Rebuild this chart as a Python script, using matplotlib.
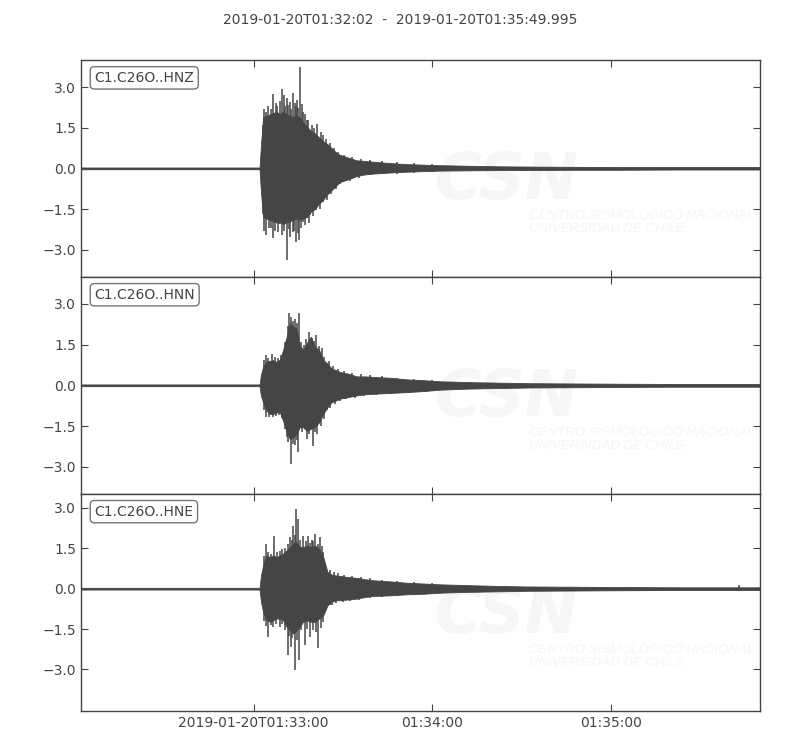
import numpy as np
import matplotlib
matplotlib.use("Agg")
import matplotlib.pyplot as plt
from matplotlib.ticker import FixedLocator, FixedFormatter

# =========================
# DONNÉES
# temps en secondes depuis 2019-01-20T01:32:02
# =========================

title = "2019-01-20T01:32:02  -  2019-01-20T01:35:49.995"
duration = 227.995
channels = ["C1.C26O..HNZ", "C1.C26O..HNN", "C1.C26O..HNE"]

xtick_pos = [58, 118, 178]
xtick_labels = ["2019-01-20T01:33:00", "01:34:00", "01:35:00"]
ytick_pos = [-3.0, -1.5, 0.0, 1.5, 3.0]

ylims = [(-4.01, 4.01), (-3.99, 3.99), (-4.53, 3.52)]

# enveloppe du corps du signal (partie pleine)
body_t = [0, 60.0, 60.5, 61.2, 62.3, 63.5, 64.6, 65.7, 66.8, 67.9, 69.1, 70.2,
          71.3, 72.4, 73.5, 74.6, 75.8, 77.2, 78.6, 80.0, 81.4, 82.8, 84.2,
          85.6, 87.0, 89.8, 92.6, 95.4, 98.2, 103.8, 109.4, 115.0, 120.6,
          130, 140, 150, 165, 180, 200, 228]

hnz_hi = [0.03, 0.03, 0.9, 1.9, 1.95, 2.0, 2.05, 2.1, 2.0, 2.1, 2.0, 1.95,
          1.9, 1.95, 1.9, 1.7, 1.55, 1.4, 1.3, 1.15, 1.0, 0.9, 0.75,
          0.6, 0.5, 0.4, 0.3, 0.28, 0.25, 0.2, 0.16, 0.14, 0.12,
          0.1, 0.08, 0.07, 0.06, 0.05, 0.05, 0.05]
hnz_lo = [-0.03, -0.03, -0.9, -1.8, -1.85, -1.9, -1.95, -2.0, -2.0, -2.05, -2.0, -1.95,
          -1.9, -1.85, -1.9, -1.85, -1.8, -1.6, -1.5, -1.3, -1.15, -0.95, -0.8,
          -0.65, -0.5, -0.4, -0.28, -0.22, -0.19, -0.15, -0.12, -0.1, -0.08,
          -0.07, -0.06, -0.06, -0.05, -0.05, -0.04, -0.04]

hnn_hi = [0.03, 0.03, 0.4, 0.68, 0.86, 0.9, 0.93, 0.86, 0.95, 1.3, 1.79, 2.28,
          2.16, 2.1, 1.48, 1.3, 1.54, 1.79, 1.42, 1.3, 0.93, 0.8, 0.62,
          0.56, 0.49, 0.43, 0.33, 0.33, 0.31, 0.28, 0.22, 0.19, 0.15,
          0.12, 0.1, 0.08, 0.07, 0.06, 0.05, 0.05]
hnn_lo = [-0.03, -0.03, -0.4, -0.62, -0.93, -1.05, -1.05, -0.99, -0.99, -1.3, -1.73, -1.98,
          -1.91, -1.79, -1.54, -1.54, -1.67, -1.6, -1.54, -1.36, -1.05, -0.8, -0.62,
          -0.56, -0.49, -0.43, -0.37, -0.33, -0.31, -0.28, -0.25, -0.21, -0.16,
          -0.12, -0.1, -0.08, -0.07, -0.06, -0.05, -0.05]

hne_hi = [0.03, 0.03, 0.5, 0.86, 1.23, 1.17, 1.23, 1.17, 1.23, 1.3, 1.42, 1.54,
          1.67, 1.73, 1.54, 1.54, 1.6, 1.54, 1.6, 1.48, 1.17, 0.62, 0.52,
          0.49, 0.47, 0.43, 0.4, 0.35, 0.31, 0.27, 0.22, 0.19, 0.16,
          0.13, 0.1, 0.08, 0.07, 0.06, 0.05, 0.05]
hne_lo = [-0.03, -0.03, -0.5, -0.86, -1.17, -1.23, -1.17, -1.11, -1.11, -1.17, -1.42, -1.54,
          -1.67, -1.54, -1.42, -1.23, -1.17, -1.23, -1.23, -1.11, -0.99, -0.62, -0.49,
          -0.43, -0.43, -0.4, -0.37, -0.31, -0.27, -0.25, -0.21, -0.19, -0.15,
          -0.12, -0.1, -0.08, -0.07, -0.06, -0.05, -0.05]

# pics individuels (temps, amplitude)
hnz_up_t = [62.1, 64.6, 65.5, 67.4, 68.2, 69.1, 70.2, 71.1, 71.9, 72.7, 73.5, 74.6, 75.8, 77.5, 79.4, 81.4,
            61.0, 61.6, 63.0, 63.8, 66.0, 66.9, 68.7, 69.6, 70.7, 72.3, 73.0, 74.1, 75.2, 76.4, 78.2,
            80.5, 82.2, 83.5, 85.0, 86.2, 88.5, 91.0, 94.0, 97.0, 101, 106, 112, 118]
hnz_up_a = [2.10, 2.74, 2.41, 2.92, 2.71, 2.59, 2.47, 2.78, 2.41, 2.53, 3.76, 2.10, 1.79, 1.60, 1.66, 1.23,
            1.6, 2.2, 2.3, 2.2, 2.3, 2.5, 2.3, 2.35, 2.2, 2.3, 2.25, 2.4, 2.0, 1.8, 1.5,
            1.35, 1.1, 0.95, 0.75, 0.6, 0.5, 0.42, 0.35, 0.33, 0.28, 0.24, 0.2, 0.17]
hnz_dn_t = [62.1, 63.2, 64.6, 66.6, 67.7, 69.1, 70.2, 71.1, 72.2, 73.3, 74.6, 75.8, 77.1, 79.1, 81.4, 87.0,
            61.0, 61.6, 63.8, 65.2, 66.1, 68.3, 69.8, 71.6, 72.8, 74.0, 75.3, 76.5, 78.0, 80.2,
            82.5, 84.0, 85.5, 88, 90.5, 93.5, 97, 101, 106, 112, 118]
hnz_dn_a = [-2.47, -2.22, -2.57, -2.04, -2.47, -3.40, -2.53, -2.35, -2.72, -2.66, -1.98, -1.85, -1.73, -1.54, -1.24, -0.56,
            -1.7, -2.3, -2.2, -2.3, -2.35, -2.3, -2.25, -2.3, -2.4, -2.2, -2.1, -2.0, -1.75, -1.5,
            -1.15, -0.95, -0.75, -0.5, -0.45, -0.35, -0.26, -0.22, -0.19, -0.15, -0.12]

hnn_up_t = [62.3, 64.2, 69.9, 70.7, 71.9, 73.2, 76.7, 79.0, 80.9,
            61.5, 63.0, 65.2, 66.3, 67.3, 68.5, 69.5, 71.3, 72.6, 74.0, 75.0, 75.5, 77.5, 78.4,
            80.0, 81.8, 83.2, 84.8, 86.5, 88.5, 91, 94, 97, 101, 106, 112, 118]
hnn_up_a = [1.11, 1.17, 2.65, 2.53, 2.43, 2.65, 1.98, 1.85, 1.36,
            0.95, 1.0, 1.05, 1.0, 1.1, 1.6, 2.2, 2.35, 2.3, 1.6, 1.5, 1.7, 1.75, 1.65,
            1.45, 1.05, 0.9, 0.72, 0.6, 0.52, 0.45, 0.4, 0.37, 0.33, 0.28, 0.24, 0.2]
hnn_dn_t = [62.1, 64.6, 69.1, 70.4, 71.3, 73.0, 75.8, 77.8, 79.4, 82.5,
            61.5, 63.2, 65.5, 66.5, 67.5, 68.6, 69.6, 71.9, 72.5, 74.2, 76.5, 78.6, 80.5,
            81.5, 83.5, 85.2, 87, 89, 92, 95, 99, 104, 110, 116]
hnn_dn_a = [-1.17, -1.17, -1.91, -2.88, -2.16, -2.47, -1.98, -2.22, -1.79, -0.9,
            -0.9, -1.15, -1.12, -1.1, -1.2, -1.6, -2.1, -2.2, -2.0, -1.7, -1.8, -1.7, -1.5,
            -1.25, -0.85, -0.7, -0.58, -0.5, -0.45, -0.4, -0.35, -0.32, -0.28, -0.24]

hne_up_t = [62.3, 65.0, 67.6, 70.2, 71.3, 72.2, 73.0, 74.6, 76.4, 77.5, 78.6, 80.3, 81.2, 221.0,
            61.5, 63.0, 64.0, 66.0, 67.0, 68.5, 69.5, 70.8, 71.8, 73.7, 75.5, 77.0, 78.0, 79.5,
            80.8, 82.0, 83.5, 85.0, 86.5, 88.5, 91, 94, 97, 101, 106, 112, 118]
hne_up_a = [1.67, 1.97, 1.48, 1.91, 2.34, 2.94, 2.59, 1.97, 1.97, 1.79, 2.03, 1.91, 1.36, 0.12,
            1.2, 1.35, 1.3, 1.35, 1.4, 1.5, 1.65, 1.8, 2.0, 1.8, 1.75, 1.7, 1.75, 1.65,
            1.6, 0.9, 0.7, 0.6, 0.58, 0.5, 0.48, 0.42, 0.38, 0.33, 0.3, 0.25, 0.2]
hne_dn_t = [62.9, 64.6, 66.8, 69.6, 70.7, 71.9, 73.3, 75.2, 76.9, 79.7, 81.4, 84.2,
            61.5, 62.2, 63.8, 65.5, 67.5, 68.5, 70.0, 71.0, 72.6, 74.0, 75.8, 77.8, 78.8,
            80.6, 82.3, 83.5, 85.5, 88, 90.5, 93.5, 97, 101, 106, 112, 118]
hne_dn_a = [-1.79, -1.42, -1.42, -2.47, -2.16, -3.02, -2.65, -2.10, -1.79, -2.22, -1.23, -0.62,
            -1.2, -1.4, -1.35, -1.3, -1.3, -1.55, -1.75, -1.85, -1.9, -1.55, -1.5, -1.55, -1.6,
            -1.45, -0.8, -0.6, -0.55, -0.5, -0.45, -0.42, -0.36, -0.3, -0.26, -0.22, -0.18]

bodies = [(hnz_hi, hnz_lo), (hnn_hi, hnn_lo), (hne_hi, hne_lo)]
spikes = [(hnz_up_t, hnz_up_a, hnz_dn_t, hnz_dn_a),
          (hnn_up_t, hnn_up_a, hnn_dn_t, hnn_dn_a),
          (hne_up_t, hne_up_a, hne_dn_t, hne_dn_a)]

# =========================
# FIGURE
# =========================

TRACE = "#454545"
GREY = "#444444"
WATERMARK = "#f6f6f6"

fig, axes = plt.subplots(3, 1, sharex=True, figsize=(8, 7.5), dpi=100)
fig.subplots_adjust(left=0.101, right=0.95, top=0.92, bottom=0.0524, hspace=0)
fig.suptitle(title, y=0.982, fontsize=10, color=GREY)

for ax, name, (hi, lo), (ut, ua, dt, da), yl in zip(axes, channels, bodies, spikes, ylims):
    # filigrane CSN
    ax.text(0.627, 0.44, "CSN", transform=ax.transAxes, ha="center", va="center",
            fontsize=46, fontweight="bold", style="italic", color=WATERMARK, zorder=0)
    ax.text(0.66, 0.25, "CENTRO SISMOLÓGICO NACIONAL\nUNIVERSIDAD DE CHILE",
            transform=ax.transAxes, ha="left", va="center", fontsize=9.5,
            style="italic", family="Liberation Sans", color=WATERMARK,
            linespacing=1.05, zorder=0, clip_on=True)

    ax.fill_between(body_t, lo, hi, color=TRACE, lw=0.6, zorder=2)
    ax.vlines(ut, 0, ua, color=TRACE, lw=1.1, zorder=2)
    ax.vlines(dt, da, 0, color=TRACE, lw=1.1, zorder=2)
    ax.plot([0, duration], [0, 0], color=TRACE, lw=1.0, zorder=2)

    ax.set_xlim(0, duration)
    ax.set_ylim(*yl)
    ax.yaxis.set_major_locator(FixedLocator(ytick_pos))
    ax.yaxis.set_major_formatter(plt.FuncFormatter(lambda v, p: f"{v:.1f}".replace("-", "\u2212")))

    ax.text(0.02, 0.95, name, transform=ax.transAxes, ha="left", va="top",
            fontsize=10, color=GREY, zorder=5,
            bbox=dict(boxstyle="round", fc="w", ec="#666666", alpha=0.9))

    ax.tick_params(direction="in", top=True, right=True, length=5, width=0.8,
                   color=GREY, labelcolor=GREY, labelsize=10)
    for sp in ax.spines.values():
        sp.set_color(GREY)
        sp.set_linewidth(1.0)

axes[-1].xaxis.set_major_locator(FixedLocator(xtick_pos))
axes[-1].xaxis.set_major_formatter(FixedFormatter(xtick_labels))

fig.savefig("out.png", dpi=100)
